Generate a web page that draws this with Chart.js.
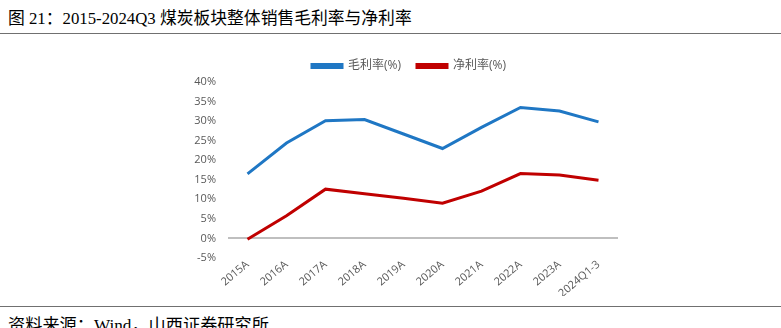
<!DOCTYPE html>
<html>
<head>
<meta charset="utf-8">
<script src="https://cdn.jsdelivr.net/npm/chart.js@4/dist/chart.umd.min.js"></script>
<style>
  body { margin: 0; width: 781px; height: 328px; background: #fff; position: relative; overflow: hidden; }
  .title { position: absolute; left: 8px; top: 5px; font: 16.8px "Liberation Serif", "Noto Sans CJK SC", serif; color: #000; }
  .rule { position: absolute; left: 0; width: 781px; height: 1px; background: #707070; }
  .source { position: absolute; left: 8px; top: 311px; font: 17.2px "Liberation Serif", "Noto Sans CJK SC", serif; color: #000; }
  #box { position: absolute; left: 170px; top: 44px; width: 460px; height: 252px; }
</style>
</head>
<body>
<div class="title">图 21：2015-2024Q3 煤炭板块整体销售毛利率与净利率</div>
<div class="rule" style="top:33px"></div>
<div id="box"><canvas id="myChart"></canvas></div>
<div class="rule" style="top:306px"></div>
<div class="source">资料来源：Wind，山西证券研究所</div>
<script>
const years = ["2015A", "2016A", "2017A", "2018A", "2019A", "2020A", "2021A", "2022A", "2023A", "2024Q1-3"];
const grossMargin = [16.5, 24.4, 30.1, 30.4, 26.7, 23.0, 28.4, 33.5, 32.6, 29.8];
const netMargin = [-0.2, 5.8, 12.6, 11.4, 10.3, 9.0, 12.1, 16.6, 16.2, 14.9];
const yTicks = [-5, 0, 5, 10, 15, 20, 25, 30, 35, 40];

const tickFont = { family: "'Open Sans', 'Noto Sans CJK SC', sans-serif", size: 11 };

// nudge the legend right so it sits where the original one does
const legendShift = {
    id: "legendShift",
    afterLayout(chart) {
        chart.legend.left += 15;
        chart.legend.right += 15;
    },
};

let ctx = document.getElementById("myChart").getContext("2d");
let myChart = new Chart(ctx, {
    type: "line",
    data: {
        labels: years,
        datasets: [
            {
                label: "毛利率(%)",
                data: grossMargin,
                borderColor: "#1f77c4",
                backgroundColor: "#1f77c4",
                borderWidth: 3,
                pointRadius: 0,
                tension: 0,
            },
            {
                label: "净利率(%)",
                data: netMargin,
                borderColor: "#c00000",
                backgroundColor: "#c00000",
                borderWidth: 3,
                pointRadius: 0,
                tension: 0,
            },
        ],
    },
    plugins: [legendShift],
    options: {
        responsive: true,
        maintainAspectRatio: false,
        animation: false,
        layout: { padding: { right: 12 } },
        plugins: {
            tooltip: { enabled: false },
            legend: {
                position: "top",
                labels: {
                    font: { family: tickFont.family, size: 12 },
                    color: "#595959",
                    boxWidth: 30,
                    boxHeight: 3,
                    padding: 16,
                },
            },
        },
        scales: {
            x: {
                offset: true,
                grid: { display: false, drawTicks: false },
                border: { display: false },
                ticks: {
                    font: tickFont,
                    color: "#595959",
                    minRotation: 40,
                    maxRotation: 40,
                    padding: 0,
                },
                afterFit: scale => { scale.height = 38; },
            },
            y: {
                min: -5,
                max: 40,
                afterBuildTicks: scale => { scale.ticks = yTicks.map(v => ({ value: v })); },
                grid: {
                    drawTicks: false,
                    lineWidth: c => (c.tick && c.tick.value === 0 ? 2 : 0),
                    color: "#bfbfbf",
                },
                border: { display: false },
                ticks: {
                    font: tickFont,
                    color: "#595959",
                    padding: 12,
                    callback: v => v + "%",
                },
                afterFit: scale => { scale.width = 58; },
            },
        },
    },
});
</script>
</body>
</html>
